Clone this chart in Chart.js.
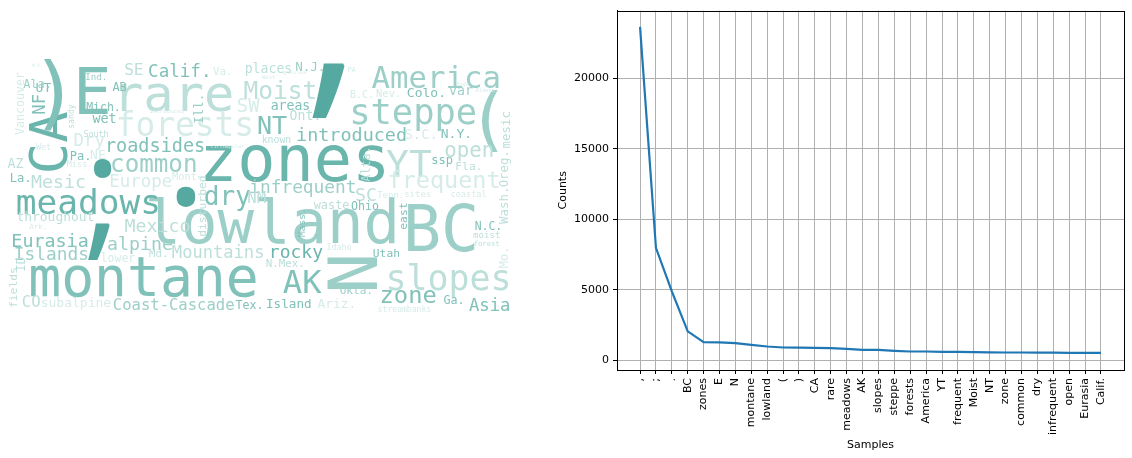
<!DOCTYPE html>
<html><head><meta charset="utf-8">
<script src="https://cdn.jsdelivr.net/npm/chart.js@4.4.1/dist/chart.umd.min.js"></script>
<style>
html,body{margin:0;padding:0;background:#fff;width:1132px;height:458px;overflow:hidden}
#cloudBox{position:absolute;left:0;top:0;width:540px;height:458px}
#freqBox{position:absolute;left:540px;top:0;width:592px;height:458px}
</style></head><body>
<div id="cloudBox"><canvas id="cloud"></canvas></div>
<div id="freqBox"><canvas id="freq"></canvas></div>
<script>
// ---- frequency distribution data ----
const samples = [',', ';', '.', 'BC', 'zones', 'E', 'N', 'montane', 'lowland', '(', ')', 'CA', 'rare', 'meadows', 'AK', 'slopes', 'steppe', 'forests', 'America', 'YT', 'frequent', 'Moist', 'NT', 'zone', 'common', 'dry', 'infrequent', 'open', 'Eurasia', 'Calif.'];
const counts = [23650, 7980, 4900, 2060, 1290, 1285, 1220, 1100, 985, 915, 910, 885, 867, 820, 750, 745, 680, 632, 630, 609, 600, 585, 575, 562, 560, 550, 545, 539, 537, 535];
const yTicks = [0, 5000, 10000, 15000, 20000];

// ---- word cloud layout (word, bounding box in cloud coordinates, vertical flag, shade) ----
const cloudWords = [',', ';', '.', 'zones', 'lowland', 'montane', 'BC', 'N', 'E', 'CA', ')', 'rare', 'forests', 'meadows', 'AK', 'slopes', 'steppe', '(', 'America', 'YT', 'frequent', 'Moist', 'NT', 'zone', 'common', 'dry', 'infrequent', 'open', 'Eurasia', 'Calif.', 'roadsides', 'introduced', 'Mountains', 'rocky', 'Mexico', 'alpine', 'Islands', 'Coast-Cascade', 'Tex.', 'Island', 'Asia', 'Mesic', 'Europe', 'Dry', 'SW', 'areas', 'Colo.', 'var', 'Nev.', 'B.C.', 'Ont.', 'known', 'S.C.', 'N.Y.', 'ssp', 'Fla.', 'Alta.', 'Oreg.', 'mesic', 'Wash.', 'Mo.', 'SC', 'Tenn.', 'sites', 'coastal', 'NM', 'waste', 'Ohio', 'east', 'Mass.', 'disturbed', 'N.C.', 'moist', 'forest', 'Utah', 'N.Mex.', 'Idaho', 'Okla.', 'Ariz.', 'Ga.', 'streambanks', 'CO', 'subalpine', 'fields', 'ID', 'throughout', 'Ark.', 'lower', 'Md.', 'Mich.', 'AB', 'UT', 'NF', 'Vancouver', 'sandy', 'Ill.', 'Wet', 'wet', 'South', 'Pa.', 'NE', 'AZ', 'La.', 'Miss.', 'Mont.', 'Ind.', 'SE', 'Ala.', 'Va.', 'places', 'N.J.', 'PA', 'M.I.', 'circumpolar', 'introduced', 'grassland', 'West', 'Alaska', 'Bogs'];
const cloudLeft =   [312, 87, 177, 205, 146, 28, 410, 330, 80, 30, 43, 123, 118, 12, 283, 390, 348, 480, 367, 390, 390, 245, 258, 380, 115, 205, 255, 450, 15, 150, 110, 303, 175, 273, 127, 110, 17, 118, 235, 265, 470, 33, 115, 76, 238, 272, 407, 450, 378, 350, 290, 262, 407, 442, 432, 457, 360, 500, 500, 498, 498, 357, 378, 405, 452, 250, 313, 353, 398, 297, 197, 477, 475, 475, 375, 268, 328, 342, 318, 443, 377, 23, 43, 8, 15, 18, 30, 103, 150, 85, 112, 37, 32, 15, 67, 193, 37, 93, 85, 72, 92, 8, 12, 68, 173, 86, 125, 23, 213, 242, 295, 348, 32, 207, 148, 283, 262, 475, 455];
const cloudTop =    [62, 162, 185, 145, 197, 258, 202, 255, 65, 108, 62, 82, 110, 188, 270, 262, 100, 95, 65, 147, 170, 80, 116, 290, 157, 185, 178, 143, 232, 63, 137, 126, 244, 244, 217, 235, 245, 297, 300, 299, 297, 173, 173, 132, 98, 102, 87, 87, 88, 90, 110, 135, 128, 128, 157, 161, 150, 150, 113, 190, 250, 187, 191, 190, 190, 190, 200, 200, 205, 212, 180, 220, 230, 240, 248, 258, 243, 285, 298, 295, 305, 295, 297, 270, 258, 211, 223, 252, 248, 102, 82, 82, 95, 70, 105, 97, 143, 113, 130, 150, 148, 158, 172, 160, 172, 73, 63, 79, 67, 63, 62, 66, 63, 145, 109, 70, 75, 88, 83];
const cloudRight =  [345, 112, 195, 384, 397, 258, 473, 373, 107, 65, 63, 230, 252, 163, 322, 507, 480, 500, 503, 428, 498, 315, 287, 437, 193, 250, 350, 488, 85, 207, 202, 400, 260, 322, 187, 170, 85, 230, 262, 313, 508, 83, 167, 103, 260, 308, 443, 472, 397, 372, 318, 292, 433, 468, 453, 480, 370, 510, 510, 508, 508, 375, 402, 430, 485, 264, 350, 377, 407, 305, 207, 498, 498, 498, 397, 300, 350, 368, 353, 463, 432, 40, 110, 18, 25, 92, 45, 133, 165, 120, 127, 50, 45, 23, 75, 203, 50, 115, 107, 88, 103, 23, 28, 90, 200, 105, 143, 50, 230, 295, 323, 356, 42, 248, 185, 307, 275, 495, 470];
const cloudBottom = [118, 257, 207, 182, 244, 296, 253, 292, 115, 175, 128, 112, 135, 213, 293, 297, 130, 147, 87, 180, 193, 99, 134, 303, 172, 210, 197, 163, 247, 77, 152, 142, 258, 262, 232, 254, 260, 310, 308, 308, 311, 188, 192, 150, 112, 110, 97, 95, 97, 97, 120, 142, 140, 138, 166, 170, 180, 190, 147, 223, 267, 202, 198, 197, 197, 204, 208, 210, 228, 235, 233, 230, 238, 246, 258, 267, 250, 295, 308, 303, 311, 307, 310, 305, 270, 224, 229, 262, 257, 110, 90, 93, 113, 137, 128, 122, 150, 123, 137, 160, 160, 168, 182, 167, 180, 80, 75, 88, 75, 74, 71, 71, 66, 149, 113, 74, 79, 92, 87];
const cloudVertical = [0,0,0,0,0,0,0,1,0,1,0,0,0,0,0,0,0,0,0,0,0,0,0,0,0,0,0,0,0,0,0,0,0,0,0,0,0,0,0,0,0,0,0,0,0,0,0,0,0,0,0,0,0,0,0,0,1,1,1,1,1,0,0,0,0,0,0,0,1,1,1,0,0,0,0,0,0,0,0,0,0,0,0,1,1,0,0,0,0,0,0,0,1,1,1,1,0,0,0,0,0,0,0,0,0,0,0,0,0,0,0,0,0,0,0,0,0,0,0];
const cloudShade =  [0,0,0,1,3,2,3,3,2,1,2,4,5,1,2,4,3,3,3,4,5,4,2,2,3,2,3,4,2,2,2,2,4,1,4,3,3,3,2,2,2,4,5,5,5,2,2,3,5,5,4,4,5,2,2,4,4,4,4,4,5,4,5,5,5,4,4,2,2,2,4,2,4,4,2,4,5,3,5,2,5,4,5,4,4,4,5,5,4,2,2,2,2,5,4,3,5,2,4,2,5,4,2,5,5,3,4,3,5,4,3,5,5,5,5,5,5,5,5];
const palette = ['#56a9a0', '#6ab5ac', '#80c1b9', '#9ccfc8', '#bcdfda', '#d6ece9'];

const wordPlugin = {
  id: 'words',
  afterDatasetsDraw(chart) {
    const ctx = chart.ctx, xs = chart.scales.x, ys = chart.scales.y;
    const mono = '"DejaVu Sans Mono", monospace';
    const punct = '"Open Sans", "DejaVu Sans", sans-serif';
    cloudWords.forEach((w, i) => {
      const fam = /^[,;.]$/.test(w) ? punct : mono;
      const L = xs.getPixelForValue(cloudLeft[i]), R = xs.getPixelForValue(cloudRight[i]);
      const T = ys.getPixelForValue(cloudTop[i]), B = ys.getPixelForValue(cloudBottom[i]);
      const bw = Math.abs(R - L), bh = Math.abs(B - T);
      ctx.save();
      ctx.textAlign = 'left'; ctx.textBaseline = 'alphabetic';
      ctx.font = '100px ' + fam;
      const m = ctx.measureText(w);
      const iw = m.actualBoundingBoxLeft + m.actualBoundingBoxRight;
      const ih = m.actualBoundingBoxAscent + m.actualBoundingBoxDescent;
      const rot = cloudVertical[i];
      const along = rot ? bh : bw, across = rot ? bw : bh;
      const size = 100 * Math.sqrt((along / iw) * (across / ih));
      ctx.font = size.toFixed(2) + 'px ' + fam;
      const m2 = ctx.measureText(w);
      const ox = (m2.actualBoundingBoxLeft - m2.actualBoundingBoxRight) / 2;
      const oy = (m2.actualBoundingBoxAscent - m2.actualBoundingBoxDescent) / 2;
      ctx.translate((L + R) / 2, (T + B) / 2);
      if (rot) ctx.rotate(-Math.PI / 2);
      ctx.fillStyle = palette[cloudShade[i]];
      ctx.fillText(w, ox, oy);
      ctx.restore();
    });
  }
};

new Chart(document.getElementById('cloud'), {
  type: 'scatter',
  data: { datasets: [{ data: cloudWords.map((w, i) => ({ x: (cloudLeft[i] + cloudRight[i]) / 2, y: (cloudTop[i] + cloudBottom[i]) / 2 })), pointRadius: 0 }] },
  options: {
    animation: false, responsive: true, maintainAspectRatio: false,
    layout: { padding: { left: 10, right: 25, top: 60, bottom: 146 } },
    plugins: { legend: { display: false }, tooltip: { enabled: false } },
    scales: {
      x: { type: 'linear', min: 10, max: 515, display: false },
      y: { type: 'linear', min: 60, max: 312, reverse: true, display: false }
    }
  },
  plugins: [wordPlugin]
});

const frame = {
  id: 'frame',
  afterDraw(chart) {
    const a = chart.chartArea, ctx = chart.ctx;
    ctx.save();
    ctx.strokeStyle = '#000'; ctx.lineWidth = 1;
    ctx.strokeRect(Math.round(a.left) + 0.5, Math.round(a.top) + 0.5, Math.round(a.right - a.left), Math.round(a.bottom - a.top));
    ctx.restore();
  }
};

const tickFont = { family: '"DejaVu Sans", sans-serif', size: 11 };
new Chart(document.getElementById('freq'), {
  type: 'line',
  data: { datasets: [{ data: samples.map((s, i) => ({ x: i, y: counts[i] })), borderColor: '#1f77b4', borderWidth: 2.2, pointRadius: 0, tension: 0, fill: false }] },
  options: {
    animation: false, responsive: true, maintainAspectRatio: false,
    layout: { padding: { top: 7, right: 8, left: 0, bottom: 0 } },
    plugins: { legend: { display: false }, tooltip: { enabled: false } },
    scales: {
      x: {
        type: 'linear', min: -1.45, max: 30.45,
        afterBuildTicks: (sc) => { sc.ticks = samples.map((s, i) => ({ value: i })); },
        afterFit: (sc) => { sc.height = 88; },
        ticks: { autoSkip: false, maxRotation: 90, minRotation: 90, padding: 4, color: '#000', font: tickFont, callback: (v) => samples[v] },
        grid: { color: '#b0b0b0', lineWidth: 1, tickColor: '#000', tickLength: 4 },
        border: { display: true, color: '#000', width: 1 },
        title: { display: true, text: 'Samples', color: '#000', font: tickFont, padding: { top: 0, bottom: 6 } }
      },
      y: {
        type: 'linear', min: -680, max: 24800,
        afterBuildTicks: (sc) => { sc.ticks = yTicks.map(v => ({ value: v })); },
        afterFit: (sc) => { sc.width = 77; },
        ticks: { padding: 4, color: '#000', font: tickFont, callback: (v) => String(v) },
        grid: { color: '#b0b0b0', lineWidth: 1, tickColor: '#000', tickLength: 4 },
        border: { display: true, color: '#000', width: 1 },
        title: { display: true, text: 'Counts', color: '#000', font: tickFont, padding: { top: 17, bottom: 0 } }
      }
    }
  },
  plugins: [frame]
});
</script>
</body></html>
